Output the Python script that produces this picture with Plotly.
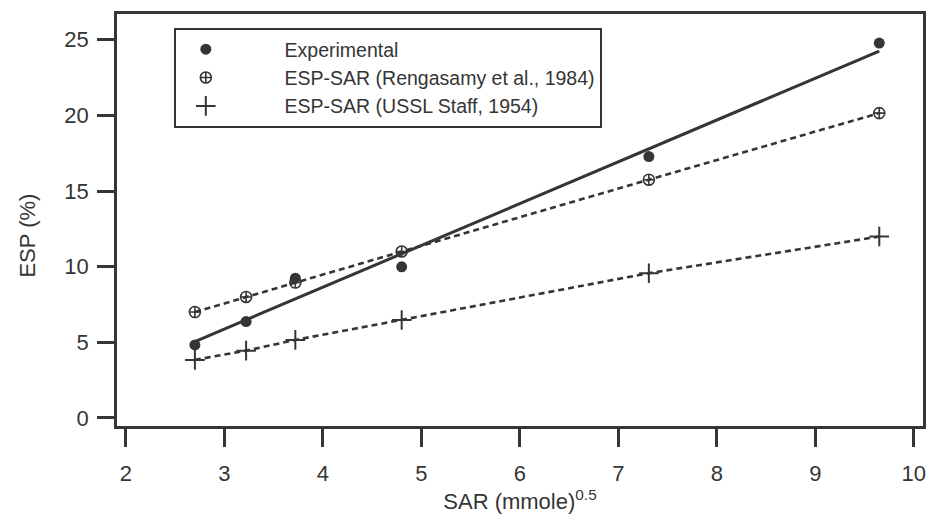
import plotly.graph_objects as go

# SAR values shared by every series
sar = [2.70, 3.22, 3.72, 4.80, 7.31, 9.65]

# Measured ESP
esp_experimental = [4.83, 6.37, 9.24, 9.99, 17.28, 24.78]
# Fitted line through the measured points (end values)
fit_sar = [2.70, 9.65]
fit_esp = [5.05, 24.25]
# Model predictions
esp_rengasamy = [7.00, 8.00, 8.95, 11.00, 15.75, 20.15]
esp_ussl = [3.84, 4.45, 5.16, 6.48, 9.57, 11.99]

x_ticks = [2, 3, 4, 5, 6, 7, 8, 9, 10]
y_ticks = [0, 5, 10, 15, 20, 25]

ink = "#353535"
font_family = "Liberation Sans, Arial, sans-serif"
pad = "\u00a0" * 9

fig = go.Figure()

# connecting lines (kept out of the legend)
fig.add_trace(go.Scatter(x=fit_sar, y=fit_esp, mode="lines",
                         line=dict(color=ink, width=3), showlegend=False))
fig.add_trace(go.Scatter(x=sar, y=esp_rengasamy, mode="lines",
                         line=dict(color=ink, width=2.6, dash="6px,4px"),
                         showlegend=False))
fig.add_trace(go.Scatter(x=sar, y=esp_ussl, mode="lines",
                         line=dict(color=ink, width=2.6, dash="6px,4px"),
                         showlegend=False))

# point markers
fig.add_trace(go.Scatter(x=sar, y=esp_experimental, mode="markers",
                         name=pad + "Experimental",
                         marker=dict(symbol="circle", size=11, color=ink)))
fig.add_trace(go.Scatter(x=sar, y=esp_rengasamy, mode="markers",
                         name=pad + "ESP-SAR (Rengasamy et al., 1984)",
                         marker=dict(symbol="circle-cross-open", size=11,
                                     color=ink, line=dict(width=1.6, color=ink))))
fig.add_trace(go.Scatter(x=sar, y=esp_ussl, mode="markers",
                         name=pad + "ESP-SAR (USSL Staff, 1954)",
                         marker=dict(symbol="cross-thin-open", size=14,
                                     color=ink, line=dict(width=2, color=ink))))

axis_common = dict(
    showline=True, linecolor=ink, linewidth=2.5, mirror=True,
    ticks="outside", tickcolor=ink, tickwidth=2.5,
    showgrid=False, zeroline=False,
    tickfont=dict(family=font_family, size=22, color=ink),
)

fig.update_layout(
    width=934, height=524,
    margin=dict(l=117, r=8, t=14, b=98),
    paper_bgcolor="white", plot_bgcolor="white",
    font=dict(family=font_family, color=ink),
    xaxis=dict(range=[1.909, 10.094], tickvals=x_ticks, ticklen=18,
               ticklabelstandoff=8,
               title=dict(text="SAR (mmole)<sup>0.5</sup>",
                          font=dict(family=font_family, size=22, color=ink),
                          standoff=4),
               **axis_common),
    yaxis=dict(range=[-0.53, 26.7], tickvals=y_ticks, ticklen=17,
               ticklabelstandoff=4, **axis_common),
    legend=dict(x=0.0705, y=0.966, xanchor="left", yanchor="top",
                bordercolor=ink, borderwidth=2, bgcolor="white",
                font=dict(family=font_family, size=19.5, color=ink),
                itemwidth=50, tracegroupgap=0),
    annotations=[dict(text="ESP (%)", textangle=-90, showarrow=False,
                      xref="paper", yref="paper", x=-0.111, y=0.461,
                      xanchor="center", yanchor="middle",
                      font=dict(family=font_family, size=22, color=ink))],
)

fig.write_html("out.html")
